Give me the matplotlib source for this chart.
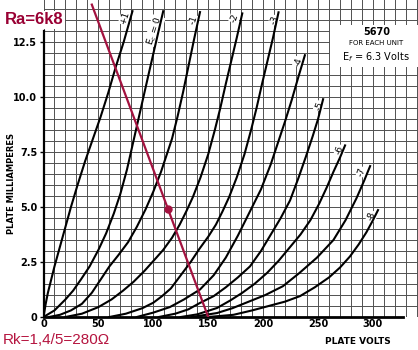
import matplotlib
matplotlib.use('Agg')
import matplotlib.pyplot as plt
from matplotlib.patches import Rectangle

# Curvas de placa 5670 (Va en voltios, Ia en mA), una por cada tension de rejilla
curva_p1_v = [0, 2, 4, 7, 10, 15, 20, 25, 31, 38, 45, 52, 59, 66, 73, 81]
curva_p1_i = [0, 0.6, 1.1, 1.7, 2.3, 3.2, 4.1, 5.0, 6.0, 7.1, 8.1, 9.1, 10.2, 11.4, 12.5, 13.9]

curva_0_v = [0, 10, 20, 27, 34, 42, 50, 57, 64, 70, 76, 81, 86, 91, 96, 102, 109]
curva_0_i = [0, 0.3, 0.8, 1.2, 1.7, 2.3, 3.05, 3.8, 4.7, 5.6, 6.7, 7.8, 8.9, 10.0, 11.1, 12.4, 13.9]

curva_m1_v = [5, 15, 25, 35, 44, 52, 60, 68, 77, 85, 93, 100, 107, 112, 117, 122, 127, 132, 137, 142.5]
curva_m1_i = [0, 0.1, 0.3, 0.6, 1.1, 1.7, 2.3, 2.8, 3.4, 4.1, 4.9, 5.7, 6.6, 7.35, 8.1, 9.1, 10.2, 11.4, 12.6, 13.86]

curva_m2_v = [20, 35, 50, 62, 72.5, 82, 92, 101, 109, 117, 124, 130, 136, 143, 150, 156, 161, 166, 171, 176, 181]
curva_m2_i = [0, 0.15, 0.45, 0.8, 1.2, 1.6, 2.1, 2.6, 3.05, 3.6, 4.2, 4.8, 5.45, 6.35, 7.4, 8.5, 9.5, 10.6, 11.65, 12.7, 13.8]

curva_m3_v = [60, 75, 90, 100, 108, 116, 125, 134, 142, 150, 157, 163, 169, 176, 183, 189, 194, 199, 204, 209, 214]
curva_m3_i = [0, 0.15, 0.4, 0.65, 0.95, 1.3, 1.9, 2.5, 3.1, 3.65, 4.2, 4.8, 5.45, 6.35, 7.4, 8.5, 9.5, 10.6, 11.65, 12.7, 13.85]

curva_m4_v = [85, 100, 115, 128, 142.5, 155, 166, 177, 188, 198, 207, 214, 220, 226, 232, 238]
curva_m4_i = [0, 0.2, 0.45, 0.8, 1.25, 1.9, 2.7, 3.7, 4.8, 5.8, 6.95, 8.0, 8.9, 9.86, 10.9, 11.9]

curva_m5_v = [105, 120, 132, 142.5, 155, 166, 177, 188, 198, 207, 216, 224.5, 232, 239, 245, 250, 254.6]
curva_m5_i = [0, 0.15, 0.35, 0.64, 0.95, 1.35, 1.8, 2.3, 3.0, 3.75, 4.5, 5.3, 6.3, 7.3, 8.2, 9.0, 9.9]

curva_m6_v = [125, 140, 158, 170, 181, 192, 203.5, 214, 224, 234, 243, 251, 258, 264, 270, 274.6]
curva_m6_i = [0, 0.12, 0.41, 0.75, 1.1, 1.5, 2.0, 2.55, 3.15, 3.75, 4.4, 5.15, 5.9, 6.6, 7.25, 7.8]

curva_m7_v = [135, 158, 172, 186, 202, 218, 233, 249, 264, 275, 285, 292, 297.4]
curva_m7_i = [0, 0.18, 0.4, 0.68, 1.0, 1.4, 2.0, 2.7, 3.5, 4.4, 5.4, 6.2, 6.86]

curva_m8_v = [150, 173, 190, 205, 220, 233.6, 247, 260, 270, 279, 287, 294, 300, 304.6]
curva_m8_i = [0, 0.1, 0.3, 0.5, 0.7, 0.95, 1.35, 1.8, 2.25, 2.75, 3.3, 3.85, 4.4, 4.86]

# Etiquetas de cada curva y donde van (V, mA)
etiquetas = ['+1', 'E$_c$ = 0', '-1', '-2', '-3', '-4', '-5', '-6', '-7', '-8']
etiqueta_v = [74, 101, 137, 174, 210, 232, 251, 270, 290, 299]
etiqueta_i = [13.6, 13.0, 13.5, 13.6, 13.5, 11.6, 9.6, 7.6, 6.6, 4.6]

# Recta de carga Ra=6k8 y punto de trabajo
carga_v = [150, 44]
carga_i = [0, 14.2]
punto_v = [113]
punto_i = [4.9]

ticks_x = [0, 50, 100, 150, 200, 250, 300]
ticks_y = [0, 2.5, 5.0, 7.5, 10.0, 12.5]
ticks_y_txt = ['0', '2.5', '5.0', '7.5', '10.0', '12.5']

curvas = [(curva_p1_v, curva_p1_i), (curva_0_v, curva_0_i), (curva_m1_v, curva_m1_i),
          (curva_m2_v, curva_m2_i), (curva_m3_v, curva_m3_i), (curva_m4_v, curva_m4_i),
          (curva_m5_v, curva_m5_i), (curva_m6_v, curva_m6_i), (curva_m7_v, curva_m7_i),
          (curva_m8_v, curva_m8_i)]

rojo = '#a3123f'

fig = plt.figure(figsize=(4.18, 3.5), dpi=100)
ax = fig.add_axes([43.5 / 418, 33 / 350, 1 - 43.5 / 418, 317 / 350])
ax.set_xlim(0, 341)
ax.set_ylim(0, 14.41)

# Cuadricula del papel
ax.set_xticks(ticks_x)
ax.set_xticks([v for v in range(0, 341, 10)], minor=True)
ax.set_yticks(ticks_y)
ax.set_yticks([k * 0.5 for k in range(0, 29)], minor=True)
ax.grid(which='both', color='#505050', linewidth=0.7)
ax.set_axisbelow(True)
ax.set_xticklabels([str(t) for t in ticks_x], fontsize=7, fontweight='bold')
ax.set_yticklabels(ticks_y_txt, fontsize=7, fontweight='bold')
ax.tick_params(axis='x', which='both', length=0, pad=1.5)
ax.tick_params(axis='y', which='major', length=3, width=1, pad=1.5)
ax.tick_params(axis='y', which='minor', length=0)

for s in ['top', 'right']:
    ax.spines[s].set_visible(False)
ax.spines['left'].set_linewidth(1.6)
ax.spines['left'].set_bounds(0, 13.0)
ax.spines['bottom'].set_linewidth(2)
ax.spines['bottom'].set_bounds(0, 327)

# Curvas
for v, i in curvas:
    ax.plot(v, i, color='black', linewidth=1.5, zorder=3)

# etiquetas debajo de las curvas, para no cortarlas
for txt, v, i in zip(etiquetas, etiqueta_v, etiqueta_i):
    ax.text(v, i, txt, rotation=72, fontsize=6.5, ha='center', va='center', zorder=2,
            bbox=dict(facecolor='white', edgecolor='none', pad=0.4))

# Caja de datos
ax.add_patch(Rectangle((261, 11.36), 80, 1.91, facecolor='white', edgecolor='none', zorder=4))
ax.text(303, 12.95, '5670', fontsize=7, fontweight='bold', ha='center', va='center', zorder=5)
ax.text(303, 12.45, 'FOR EACH UNIT', fontsize=5, ha='center', va='center', zorder=5)
ax.text(303, 11.8, 'E$_f$ = 6.3 Volts', fontsize=7, ha='center', va='center', zorder=5)

# Recta de carga
ax.plot(carga_v, carga_i, color=rojo, linewidth=1.6, zorder=5)
ax.plot(punto_v, punto_i, 'o', color=rojo, markersize=5, zorder=6)

fig.text(358 / 418, 1 - 342 / 350, 'PLATE VOLTS', fontsize=6.5, fontweight='bold', ha='center', va='center')
fig.text(12 / 418, 1 - 183 / 350, 'PLATE MILLIAMPERES', fontsize=6, fontweight='bold', rotation=90,
         ha='center', va='center')

fig.text(5 / 418, 1 - 20 / 350, 'Ra=6k8', fontsize=12, fontweight='bold', color='#990033',
         family='Liberation Sans', ha='left', va='center',
         bbox=dict(facecolor='white', edgecolor='none', pad=1))
fig.text(3 / 418, 1 - 340 / 350, 'Rk=1,4/5=280Ω', fontsize=11, color='#b5143f',
         family='Liberation Sans', ha='left', va='center')

fig.savefig('out.png', dpi=100)
